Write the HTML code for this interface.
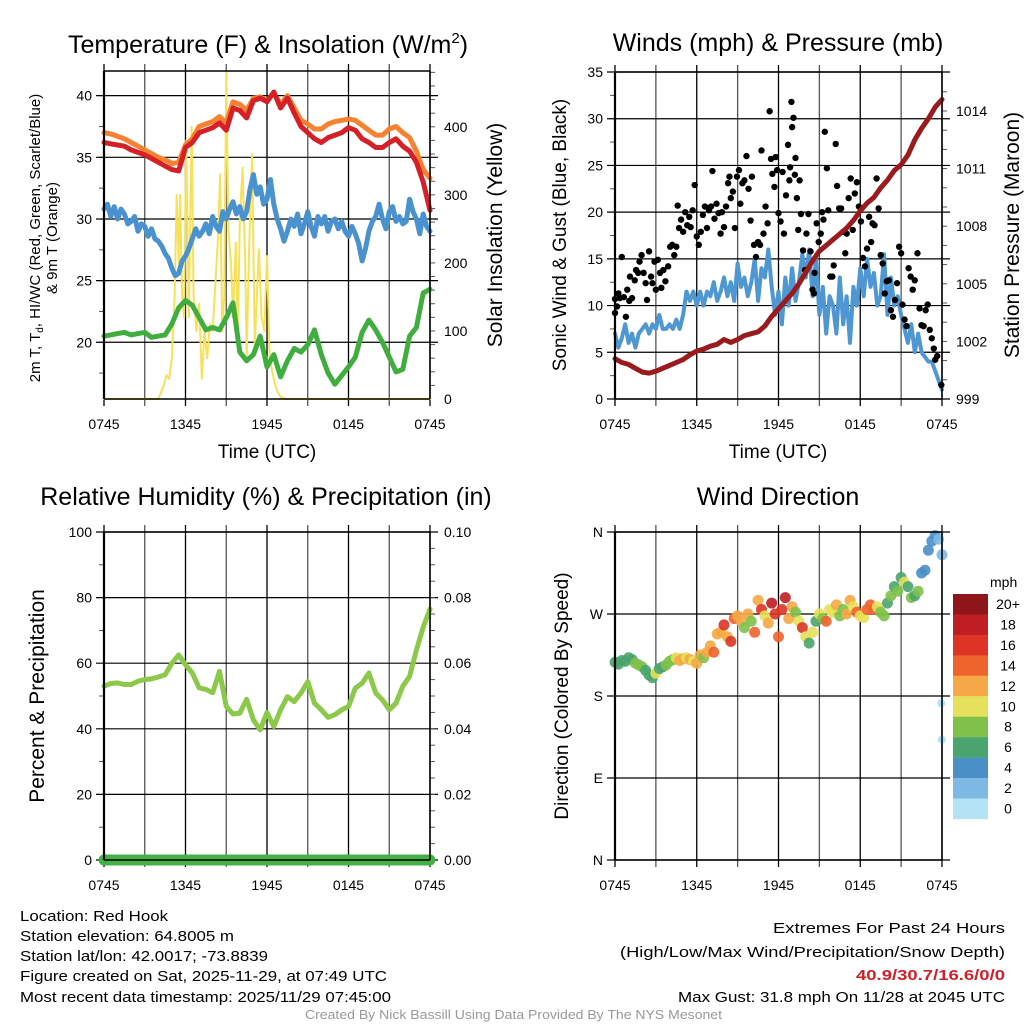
<!DOCTYPE html>
<html><head><meta charset="utf-8"><style>
html,body{margin:0;padding:0;background:#fff;}
svg{display:block;font-family:"Liberation Sans",sans-serif;}
</style></head><body>
<svg id="chart" width="1024" height="1024" viewBox="0 0 1024 1024" xmlns="http://www.w3.org/2000/svg">
<rect width="1024" height="1024" fill="#fff"/>
<g id="layer"></g>
<g fill="#000">
<text x="268" y="53" font-size="25" text-anchor="middle">Temperature (F) &amp; Insolation (W/m<tspan font-size="15" dy="-10">2</tspan><tspan dy="10">)</tspan></text>
<text x="778" y="51" font-size="25" text-anchor="middle">Winds (mph) &amp; Pressure (mb)</text>
<text x="266" y="505" font-size="25" text-anchor="middle">Relative Humidity (%) &amp; Precipitation (in)</text>
<text x="778" y="505" font-size="25" text-anchor="middle">Wind Direction</text>
<text transform="translate(40,238) rotate(-90)" font-size="15" text-anchor="middle">2m T, T<tspan font-size="10" dy="3">d</tspan><tspan dy="-3">, HI/WC (Red, Green, Scarlet/Blue)</tspan></text>
<text transform="translate(57,238) rotate(-90)" font-size="15" text-anchor="middle">&amp; 9m T (Orange)</text>
<text transform="translate(502,235) rotate(-90)" font-size="21" text-anchor="middle">Solar Insolation (Yellow)</text>
<text transform="translate(566,235) rotate(-90)" font-size="19" text-anchor="middle">Sonic Wind &amp; Gust (Blue, Black)</text>
<text transform="translate(1019,235) rotate(-90)" font-size="21" text-anchor="middle">Station Pressure (Maroon)</text>
<text transform="translate(44,696) rotate(-90)" font-size="21" text-anchor="middle">Percent &amp; Precipitation</text>
<text transform="translate(568,696) rotate(-90)" font-size="19" text-anchor="middle">Direction (Colored By Speed)</text>
<text x="267" y="458" font-size="19" text-anchor="middle">Time (UTC)</text>
<text x="778" y="458" font-size="19" text-anchor="middle">Time (UTC)</text>
</g>
<g font-size="15">
<text x="20" y="921" textLength="148" lengthAdjust="spacingAndGlyphs">Location: Red Hook</text>
<text x="20" y="941" textLength="214" lengthAdjust="spacingAndGlyphs">Station elevation: 64.8005 m</text>
<text x="20" y="961" textLength="248" lengthAdjust="spacingAndGlyphs">Station lat/lon: 42.0017; -73.8839</text>
<text x="20" y="981" textLength="367" lengthAdjust="spacingAndGlyphs">Figure created on Sat, 2025-11-29, at 07:49 UTC</text>
<text x="20" y="1002" textLength="371" lengthAdjust="spacingAndGlyphs">Most recent data timestamp: 2025/11/29 07:45:00</text>
<text x="773" y="933" textLength="232" lengthAdjust="spacingAndGlyphs">Extremes For Past 24 Hours</text>
<text x="620" y="957" textLength="385" lengthAdjust="spacingAndGlyphs">(High/Low/Max Wind/Precipitation/Snow Depth)</text>
<text x="856" y="980" fill="#d0202a" font-weight="bold" textLength="149" lengthAdjust="spacingAndGlyphs">40.9/30.7/16.6/0/0</text>
<text x="678" y="1002" textLength="327" lengthAdjust="spacingAndGlyphs">Max Gust: 31.8 mph On 11/28 at 2045 UTC</text>
<text x="305" y="1019" font-size="13" fill="#999" textLength="417" lengthAdjust="spacingAndGlyphs">Created By Nick Bassill Using Data Provided By The NYS Mesonet</text>
</g>
</svg>
<script>
// ---------- DATA ----------
const timeTicks = ["0745","1345","1945","0145","0745"];
const halfHours = [0,0.5,1,1.5,2,2.5,3,3.5,4,4.5,5,5.5,6,6.5,7,7.5,8,8.5,9,9.5,10,10.5,11,11.5,12,12.5,13,13.5,14,14.5,15,15.5,16,16.5,17,17.5,18,18.5,19,19.5,20,20.5,21,21.5,22,22.5,23,23.5,24];
const temp2m = [36.2,36.1,36.0,35.9,35.6,35.4,35.2,34.9,34.6,34.3,34.0,33.9,35.8,36.2,37.0,37.2,37.4,37.8,37.2,39.0,38.8,38.2,39.6,39.8,39.5,40.3,39.0,39.8,38.6,37.5,37.0,36.5,36.2,36.6,36.8,37.0,37.4,37.2,36.5,36.2,35.8,35.8,36.2,36.5,35.9,35.5,34.6,33.0,30.7];
const temp9m = [37.0,36.9,36.7,36.5,36.2,35.9,35.6,35.3,35.0,34.8,34.5,34.6,36.0,36.5,37.5,37.7,37.9,38.3,37.8,39.5,39.3,38.8,39.8,39.9,39.6,40.2,39.3,40.0,39.0,38.0,37.7,37.3,37.3,37.7,37.9,38.0,38.1,38.0,37.6,37.2,36.8,36.8,37.3,37.5,37.0,36.6,35.5,34.0,33.3];
const dewPoint = [20.5,20.6,20.7,20.8,20.6,20.7,20.8,20.4,20.5,20.6,21.5,22.8,23.4,23.0,22.0,21.0,21.2,21.0,22.0,23.2,19.2,18.5,19.0,20.5,18.0,19.0,17.2,18.5,19.5,19.2,19.8,21.0,19.0,17.5,16.6,17.3,18.0,18.8,20.8,21.8,21.0,20.0,18.8,17.6,17.8,20.5,21.2,24.0,24.3];
const windChill = [30.8,31.2,30.2,31.0,30.0,30.8,30.4,29.6,29.8,30.2,29.0,29.6,29.4,28.6,29.2,28.4,28.2,27.8,27.2,26.8,26.0,25.4,25.6,26.6,27.0,27.6,28.4,29.2,28.6,29.0,29.6,28.8,30.2,29.4,29.0,30.6,30.0,30.8,31.4,30.4,31.0,30.0,30.6,32.4,33.6,32.0,32.6,31.2,31.6,33.2,31.2,30.0,29.2,28.2,29.0,30.0,29.4,30.4,28.8,29.6,30.6,29.4,28.6,30.2,29.6,30.2,29.0,29.8,30.0,29.2,29.8,29.0,28.6,29.4,28.8,28.0,26.6,27.6,29.0,29.8,30.2,31.2,30.0,29.2,30.6,31.0,29.8,30.2,29.6,29.8,31.6,30.6,30.0,28.8,30.4,29.4,29.0];
const solarT = [0,4.0,4.4,4.6,4.8,5.0,5.2,5.35,5.5,5.6,5.75,5.9,6.05,6.25,6.45,6.6,6.8,7.0,7.2,7.4,7.6,7.8,8.0,8.2,8.4,8.55,8.7,8.85,9.0,9.15,9.35,9.5,9.7,9.85,10.0,10.2,10.4,10.5,10.7,10.9,11.1,11.25,11.4,11.6,11.8,12.0,12.2,12.4,12.6,12.8,13.0,13.4,24];
const solarV = [0,0,20,35,30,60,150,300,200,300,150,120,380,120,400,150,100,140,30,100,60,110,100,170,240,330,100,150,480,250,200,120,230,90,260,340,200,60,230,360,80,150,220,120,100,210,60,40,20,10,3,0,0];
const pressure = [1001.1,1000.9,1000.8,1000.6,1000.4,1000.35,1000.45,1000.6,1000.75,1000.9,1001.05,1001.3,1001.5,1001.6,1001.75,1001.85,1002.1,1001.95,1002.1,1002.3,1002.4,1002.5,1002.8,1003.3,1003.7,1004.1,1004.5,1005.0,1005.6,1006.2,1006.7,1007.0,1007.3,1007.6,1007.9,1008.3,1008.8,1009.2,1009.5,1010.0,1010.4,1010.9,1011.2,1011.7,1012.5,1013.1,1013.6,1014.2,1014.6];
const sonicWind = [7,5.5,6.5,8, 6,7,5.5,7, 7.5,8,7,8, 7.5,9,7.5,7.5, 8,7.5,8.5,7.5, 9,11.5,10.5,11.5, 10,11.5,10,11.5, 11,12.5,10.5,11.5, 13,11,12.5,10.5, 14.5,12,13,11, 12.5,15,10.5,14, 13,16,12,9, 11.5,8,13,10, 14,10.5,12.5,15.5, 13,16,11,15, 9,12,7,11, 10,7,13,8, 11,6,12,10, 14,11,15,12, 13.5,10,11,15.5, 9,13,10,11, 9,7.5,6,8, 5,7,5,4.5, 4,4,3,2, 1];
const gustT = [0,0,0.15,0.25,0.35,0.5,0.65,0.8,0.9,1.05,1.1,1.25,1.45,1.55,1.7,1.8,1.95,2.1,2.25,2.35,2.5,2.65,2.75,2.9,3.0,3.15,3.3,3.4,3.55,3.7,3.9,4.05,4.2,4.35,4.5,4.6,4.7,4.85,5.0,5.15,5.3,5.45,5.55,5.7,5.85,6.0,6.15,6.3,6.45,6.6,6.75,6.9,7.05,7.15,7.3,7.45,7.6,7.75,7.85,8.0,8.15,8.3,8.4,8.5,8.65,8.8,8.95,9.1,9.2,9.35,9.5,9.65,9.8,9.95,10.05,10.2,10.35,10.5,10.65,10.75,10.9,11.05,11.2,11.35,11.45,11.55,11.7,11.8,11.9,12.0,12.15,12.3,12.4,12.55,12.7,12.8,12.85,12.95,13.0,13.1,13.2,13.25,13.35,13.45,13.55,13.65,13.8,13.95,14.05,14.2,14.35,14.5,14.6,14.65,14.8,14.95,15.1,15.2,15.3,15.4,15.55,15.65,15.8,15.95,16.05,16.2,16.3,16.45,16.6,16.75,16.9,17.0,17.15,17.3,17.45,17.6,17.75,17.9,18.05,18.2,18.35,18.5,18.65,18.8,18.9,19.05,19.2,19.35,19.5,19.65,19.8,19.95,20.1,20.25,20.4,20.55,20.7,20.85,21.0,21.1,21.25,21.4,21.55,21.7,21.85,22.0,22.2,22.35,22.5,22.65,22.8,22.95,23.1,23.25,23.4,23.5,23.65,23.95];
const gustV = [10.7,9.2,9.9,11.3,10.8,15.2,10.9,8.8,11.7,10.5,13.1,10.8,12.7,13.8,13.5,14.7,15.4,13.5,12.4,10.6,15.8,13.1,12.4,14.7,11.7,14.9,13.5,11.9,13.8,12.6,14.2,16.3,16.5,15.4,16.3,20.7,18.3,19.2,17.9,20.0,18.6,19.5,18.4,20.2,22.9,17.4,16.5,17.9,19.7,20.6,18.3,20.2,20.6,24.4,19.3,20.9,19.9,17.7,20.0,18.4,20.6,23.1,23.8,21.5,22.2,18.3,23.8,24.5,20.9,23.1,23.4,26.0,22.5,19.1,23.8,16.5,15.2,16.8,16.5,26.6,17.7,20.6,18.8,30.8,25.7,24.1,22.7,25.9,24.5,19.9,19.0,24.3,17.7,21.8,27.2,23.4,24.8,31.8,29.1,30.1,24.0,25.8,21.5,18.1,23.4,19.8,15.9,13.8,17.7,19.8,15.8,11.7,11.3,13.5,18.8,16.8,17.7,20.0,19.2,28.6,24.7,20.2,13.1,13.1,14.3,27.3,22.8,20.4,20.4,17.9,15.6,17.7,21.5,23.6,18.1,22.0,23.2,20.6,19.0,15.1,14.2,16.1,19.5,16.8,18.8,18.6,23.6,20.4,15.4,14.5,11.3,12.6,12.7,9.5,8.8,10.6,12.4,16.3,15.6,10.1,8.5,7.8,14.0,13.1,11.7,12.7,15.6,9.7,7.9,7.8,9.5,10.1,7.4,6.5,5.4,4.2,4.6,1.5];
const relHum = [53,53.8,54,53.5,53.5,54.5,55,55.2,55.8,56.5,60,62.5,59.5,57,52.5,52,51,57.5,46.8,44.5,44.8,49,42.7,39.7,45,40.7,45.8,49.8,48.3,50.9,54.4,47.8,45.8,43.5,44.3,45.8,46.8,52.4,53.9,57,50.9,48.8,45.8,47.8,53,56,64,71,76.5];
const precip = [0,0];
const precipT = [0,24];
const windDir = [217,215,219,218, 222,220,216,214, 212,208,203,200, 205,210,212,214, 218,220,222,219, 221,222,220,218, 216,225,222,228, 235,228,248,250, 258,245,240,265, 268,262,255,270, 262,250,285,275, 268,260,282,270, 245,275,288,265, 278,272,262,255, 245,238,250,262, 270,265,262,275, 272,280,268,275, 270,285,278,272, 268,266,275,280, 275,278,272,268, 282,290,300,295, 310,305,300,288, 290,295,315,318, 340,350,356,352, 335];
const windSpd = [7,7,6,7, 6,6,8,8, 8,7,6,6, 10,6,7,8, 8,9,10,12, 12,11,12,10, 13,12,9,12, 12,14,13,12, 17,12,16,15, 13,12,8,12, 9,14,12,17, 10,13,18,16, 14,17,18,12, 13,9,10,17, 10,6,10,6, 11,8,14,10, 11,12,9,8, 13,12,10,14, 11,10,15,14, 15,10,9,8, 7,8,6,9, 7,10,6,8, 6,8,4,4, 4,5,4,3, 2];
const outT = [23.95,23.98];
const outDir = [172,132];
const outSpd = [1,1];
const speedLabels = ["20+","18","16","14","12","10","8","6","4","2","0"];
const speedColors = ["#b5e3f6","#7db9e2","#4a8fc6","#4aa46d","#7fc14b","#e6e15a","#f5a845","#ef632c","#dd3426","#bf1e24","#8e1519"];

// ---------- DRAW ----------
const NS="http://www.w3.org/2000/svg";
const layer=document.getElementById('layer');
function mk(tag,attrs,parent){const e=document.createElementNS(NS,tag);for(const k in attrs)e.setAttribute(k,attrs[k]);(parent||layer).appendChild(e);return e;}
function lin(d0,d1,r0,r1){return v=>r0+(v-d0)*(r1-r0)/(d1-d0);}

function panel(name,x0,x1,y0,y1){
  const g=mk('g',{});
  
  
  const sx=lin(0,24,x0,x1);
  for(let h=0;h<=24;h+=3){
    const l=mk('line',{x1:sx(h),x2:sx(h),y1:y0-7,y2:y1+7,stroke:(h%6===0?'#000':'#555'),'stroke-width':1.3},g);
    
    
  }
  timeTicks.forEach((t,i)=>{
    const tx=mk('text',{x:sx(i*6),y:y1+30,'font-size':14,'text-anchor':'middle'},g);
    tx.textContent=t;
    
    
  });
  return {g,sx,x0,x1,y0,y1};
}
function yAxis(p,sy,ticks,labels,side,minor){
  const xe= side==='l'?p.x0:p.x1, dir= side==='l'?-1:1;
  minor.forEach(v=>{const y=sy(v);mk('line',{x1:xe,x2:xe+dir*5,y1:y,y2:y,stroke:'#555','stroke-width':1},p.g);});
  ticks.forEach((v,i)=>{
    const y=sy(v);
    if(side==='l'){mk('line',{x1:p.x0-8,x2:p.x1+8,y1:y,y2:y,stroke:'#000','stroke-width':1.2},p.g);}
    const t=mk('text',{x:side==='l'?p.x0-12:p.x1+14,y:y+5,'font-size':14,'text-anchor':side==='l'?'end':'start'},p.g);
    t.textContent=labels[i];
    
    
  });
}
function frame(p){
  mk('line',{x1:p.x0,x2:p.x0,y1:p.y0,y2:p.y1,stroke:'#000','stroke-width':2.2},p.g);
  mk('line',{x1:p.x1,x2:p.x1,y1:p.y0,y2:p.y1,stroke:'#000','stroke-width':1.5},p.g);
  mk('line',{x1:p.x0,x2:p.x1,y1:p.y0,y2:p.y0,stroke:'#000','stroke-width':1.5},p.g);
  mk('line',{x1:p.x0,x2:p.x1,y1:p.y1,y2:p.y1,stroke:'#000','stroke-width':1.5},p.g);
}
function path(p,xs,ys,sx,sy,color,w,name){
  let d='';xs.forEach((x,i)=>{d+=(i?'L':'M')+sx(x).toFixed(1)+','+sy(ys[i]).toFixed(1);});
  const e=mk('path',{d:d,fill:'none',stroke:color,'stroke-width':w,'stroke-linejoin':'round','stroke-linecap':'round'},p.g);
  
  
  return e;
}
function range(a,b,s){const r=[];for(let v=a;v<=b+1e-9;v+=s)r.push(+v.toFixed(4));return r;}
const quarterIdx=windChill.map((_,i)=>i*0.25);

// Panel 1
const p1=panel('temperature-panel',104,430,71,399);
const ty=lin(15.4,42.0,399,71), sy1=lin(0,482,399,71);
yAxis(p1,ty,[20,25,30,35,40],['20','25','30','35','40'],'l',range(17.5,40,2.5));
yAxis(p1,sy1,[0,100,200,300,400],['0','100','200','300','400'],'r',range(20,480,20));
path(p1,solarT,solarV,p1.sx,sy1,'#f7e15a',2,'solar-insolation-line');
path(p1,halfHours,temp9m,p1.sx,ty,'#f58230',5,'temp-9m-line');
path(p1,halfHours,temp2m,p1.sx,ty,'#d42026',5,'temp-2m-line');
path(p1,quarterIdx,windChill,p1.sx,ty,'#4a92cf',5,'wind-chill-line');
path(p1,halfHours,dewPoint,p1.sx,ty,'#3fae3f',5,'dew-point-line');
frame(p1);

// Panel 2
const p2=panel('wind-pressure-panel',615,942,72,399);
const wy=lin(0,35,399,72), py=lin(999,1016.03,399,72);
yAxis(p2,wy,[0,5,10,15,20,25,30,35],['0','5','10','15','20','25','30','35'],'l',range(2.5,32.5,5));
yAxis(p2,py,[999,1002,1005,1008,1011,1014],['999','1002','1005','1008','1011','1014'],'r',range(1000,1015,1));
path(p2,quarterIdx,sonicWind,p2.sx,wy,'#4f97d3',4,'sonic-wind-line');
gustT.forEach((t,i)=>{
  const c=mk('circle',{cx:p2.sx(t),cy:wy(gustV[i]),r:3.2,fill:'#000'},p2.g);
  
  
});
path(p2,halfHours,pressure,p2.sx,py,'#9a1b1e',5,'pressure-line');
frame(p2);

// Panel 3
const p3=panel('humidity-panel',104,430,532,860);
const ry=lin(0,100,860,532), qy=lin(0,0.1,860,532);
yAxis(p3,ry,[0,20,40,60,80,100],['0','20','40','60','80','100'],'l',range(10,90,20));
yAxis(p3,qy,[0,0.02,0.04,0.06,0.08,0.1],['0.00','0.02','0.04','0.06','0.08','0.10'],'r',range(0.005,0.095,0.005));
path(p3,halfHours,relHum,p3.sx,ry,'#8cc94a',5,'relative-humidity-line');
path(p3,precipT,precip,p3.sx,qy,'#45b045',11,'precipitation-line');
frame(p3);

// Panel 4
const p4=panel('wind-direction-panel',615,942,532,860);
const dy=lin(0,360,860,532);
yAxis(p4,dy,[0,90,180,270,360],['N','E','S','W','N'],'l',[]);
function spdColor(s){return speedColors[Math.min(10,Math.floor(s/2))];}
windDir.forEach((d,i)=>{
  const c=mk('circle',{cx:p4.sx(quarterIdx[i]),cy:dy(d),r:5.5,fill:spdColor(windSpd[i]),opacity:0.9},p4.g);
  
  
});
outT.forEach((t,i)=>{
  const c=mk('circle',{cx:p4.sx(t),cy:dy(outDir[i]),r:4,fill:spdColor(outSpd[i])},p4.g);
  
  
});
frame(p4);

// colorbar
const cb=mk('g',{});


const cbTitle=mk('text',{x:990,y:587,'font-size':14},cb);
cbTitle.textContent='mph';
speedLabels.forEach((lab,i)=>{
  const y=594+i*20.45;
  const r=mk('rect',{x:953,y:y,width:35,height:20.6,fill:speedColors[10-i]},cb);
  
  
  const t=mk('text',{x:1008,y:y+15,'font-size':14,'text-anchor':'middle'},cb);
  t.textContent=lab;
  
  
});
</script>
</body></html>
